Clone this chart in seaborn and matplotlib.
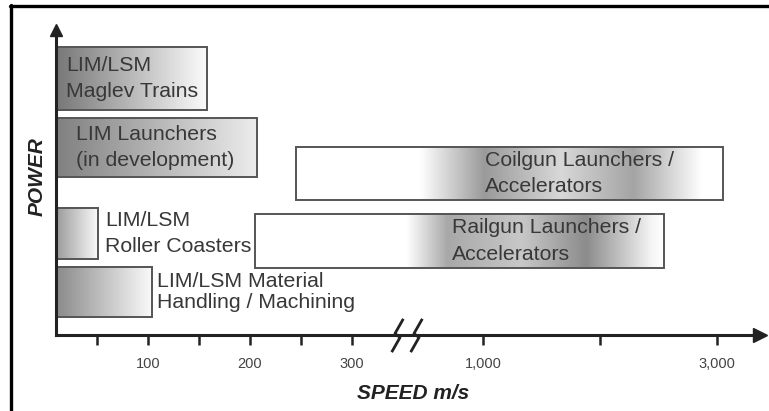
import numpy as np
import matplotlib.pyplot as plt
import seaborn as sns
from matplotlib.colors import LinearSegmentedColormap
from matplotlib.patches import Rectangle
from matplotlib.path import Path
from matplotlib.lines import Line2D
from matplotlib.transforms import Bbox, TransformedBbox, BboxTransformTo, offset_copy

# application bands: speed range (m/s) and relative power band
labels = ["LIM/LSM\nMaglev Trains",
          "LIM Launchers\n(in development)",
          "Coilgun Launchers /\nAccelerators",
          "LIM/LSM\nRoller Coasters",
          "Railgun Launchers /\nAccelerators",
          "LIM/LSM Material\nHandling / Machining"]
speed_min = [10, 10, 245, 10, 205, 10]
speed_max = [158, 207, 3050, 51, 2550, 104]
power_min = [225, 158, 135, 76, 67, 18]
power_max = [288, 217, 188, 127, 121, 68]

tick_speeds = [50, 100, 150, 200, 250, 300, 1000, 2000, 3000]
tick_labels = ["", "100", "", "200", "", "300", "1,000", "", "3,000"]

# layout: where each label starts (speed), line spacing, gradient stops
label_at = [20, 30, 1020, 58, 735, 109]
line_sp = [1.5, 1.5, 1.5, 1.5, 1.5, 1.15]
grads = [
    [(0, "#777777"), (1, "#fbfbfb")],
    [(0, "#808080"), (1, "#ececec")],
    [(0, "white"), (0.29, "white"), (0.44, "#9a9a9a"), (0.62, "#d8d8d8"),
     (0.79, "#a4a4a4"), (0.95, "white"), (1, "white")],
    [(0, "#9a9a9a"), (1, "#fafafa")],
    [(0, "white"), (0.37, "white"), (0.47, "#a8a8a8"), (0.65, "#c8c8c8"),
     (0.81, "#8c8c8c"), (0.97, "#f5f5f5"), (1, "white")],
    [(0, "#8a8a8a"), (1, "#fafafa")],
]

BREAK = 354


def fwd(v):
    v = np.asarray(v, dtype=float)
    return np.where(v <= BREAK, 46 + 1.02 * v, 366 + 0.117 * v)


def inv(p):
    p = np.asarray(p, dtype=float)
    return np.where(p <= 46 + 1.02 * BREAK, (p - 46) / 1.02, (p - 366) / 0.117)


sns.set_theme(style="white")
plt.rcParams["font.family"] = ["Liberation Sans", "DejaVu Sans"]

fig = plt.figure(figsize=(7.69, 4.11), dpi=100)
ax = fig.add_axes([56 / 769, 76 / 411, 704 / 769, 305 / 411])
ax.set_xscale("function", functions=(fwd, inv))

for i in range(len(labels)):
    x0, x1 = speed_min[i], speed_max[i]
    y0, y1 = power_min[i], power_max[i]
    cmap = LinearSegmentedColormap.from_list("g%d" % i, grads[i])
    grad = np.linspace(0, 1, 256).reshape(1, -1)
    box = TransformedBbox(Bbox.from_extents(x0, y0, x1, y1), ax.transData)
    ax.imshow(grad, cmap=cmap, extent=(0, 1, 0, 1), aspect="auto",
              transform=BboxTransformTo(box), interpolation="bilinear", zorder=1)
    ax.add_patch(Rectangle((x0, y0), x1 - x0, y1 - y0, fill=False,
                           ec="#555555", lw=1.4, zorder=2))
    ax.text(label_at[i], (y0 + y1) / 2, labels[i], ha="left", va="center",
            fontsize=15.3, color="#383838", linespacing=line_sp[i], zorder=3)

ax.set_xlim(10, 3368)
ax.set_ylim(0, 305)
ax.set_xticks(tick_speeds)
ax.set_xticklabels(tick_labels)
ax.set_yticks([])
ax.tick_params(axis="x", direction="out", length=7, width=1.8, color="#222222",
               labelsize=10.5, labelcolor="#444444", pad=9, bottom=True)
sns.despine(ax=ax)
for s in ["left", "bottom"]:
    ax.spines[s].set_linewidth(2.2)
    ax.spines[s].set_color("#222222")

ax.set_ylabel("POWER", fontsize=15, fontweight="bold", fontstyle="italic", color="#222222")
ax.yaxis.set_label_coords(-0.013, 0.52)
ax.set_xlabel("SPEED m/s", fontsize=15, fontweight="bold", fontstyle="italic", color="#222222")
ax.xaxis.set_label_coords(0.507, -0.16)

# axis arrows
ax.plot(1, 0, marker=">", ms=10, color="#222222", transform=ax.transAxes, clip_on=False)
ax.plot(0, 1, marker="^", ms=8, color="#222222", transform=ax.transAxes, clip_on=False)

# axis break symbol
zig = Path([(0.35, 1), (-0.15, 0.12), (0.15, -0.12), (-0.35, -1)],
           [Path.MOVETO, Path.LINETO, Path.LINETO, Path.LINETO])
for dx in (-10, 9):
    ax.plot([BREAK], [0], marker=zig, ms=24, mfc="none", mec="#222222", mew=2,
            ls="none", clip_on=False,
            transform=offset_copy(ax.transData, fig=fig, x=dx, y=0, units="dots"))

# outer frame
fig.add_artist(Line2D([10 / 769, 1], [1 - 6 / 411] * 2, color="black", lw=2.4))
fig.add_artist(Line2D([11 / 769] * 2, [0, 1 - 5 / 411], color="black", lw=2.4))

plt.savefig("out.png", dpi=100)
